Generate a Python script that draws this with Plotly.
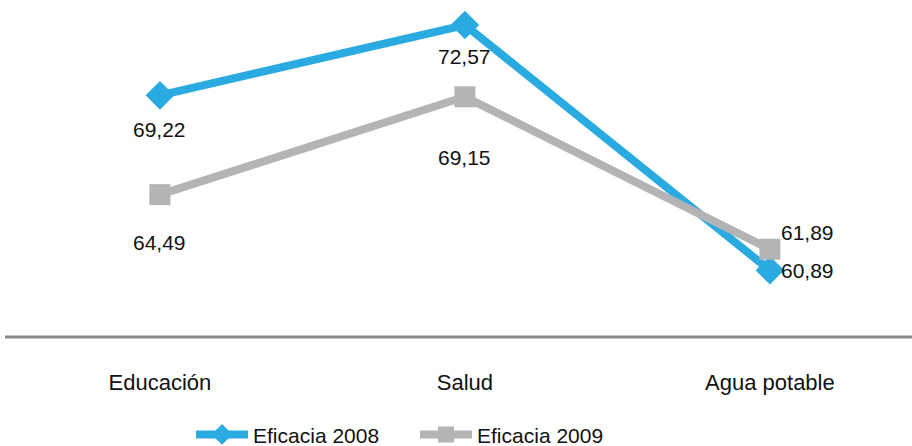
import plotly.graph_objects as go

categories = ["Educación", "Salud", "Agua potable"]
eficacia_2008 = [69.22, 72.57, 60.89]
eficacia_2009 = [64.49, 69.15, 61.89]
series_names = ["Eficacia 2008", "Eficacia 2009"]

# label offsets (px) for data labels: (xshift, yshift)
off_2008 = [(0, -34), (0, -32), (38, 0)]
off_2009 = [(0, -48), (0, -61), (38, 17)]

BLUE = "#29ABE2"
GRAY = "#B2B4B6"
FONT = "Liberation Sans, Arial, sans-serif"

xs = list(range(len(categories)))

fig = go.Figure()
fig.add_trace(go.Scatter(
    x=xs, y=eficacia_2008, name=series_names[0], mode="lines+markers",
    line=dict(color=BLUE, width=8),
    marker=dict(symbol="diamond", size=22, color=BLUE),
))
fig.add_trace(go.Scatter(
    x=xs, y=eficacia_2009, name=series_names[1], mode="lines+markers",
    line=dict(color=GRAY, width=8),
    marker=dict(symbol="square", size=21, color=GRAY),
))

def fmt(v):
    return f"{v:.2f}".replace(".", ",")

for vals, offs in ((eficacia_2008, off_2008), (eficacia_2009, off_2009)):
    for i, (v, (dx, dy)) in enumerate(zip(vals, offs)):
        fig.add_annotation(x=xs[i], y=v, text=fmt(v), showarrow=False,
                           xshift=dx, yshift=dy, xanchor="center", yanchor="middle",
                           font=dict(family=FONT, size=21, color="#111111"))

fig.update_layout(
    width=912, height=446,
    margin=dict(l=5, r=0, t=0, b=109, autoexpand=False),
    plot_bgcolor="white", paper_bgcolor="white",
    font=dict(family=FONT, size=21, color="#111111"),
    showlegend=True,
    legend=dict(orientation="h", x=0.2051, xanchor="left", y=-0.29, yanchor="middle",
                itemwidth=52, entrywidth=157, font=dict(family=FONT, size=21, color="#111111"),
                bgcolor="rgba(0,0,0,0)"),
    xaxis=dict(range=[-0.508, 2.466], tickvals=xs, ticktext=categories,
               showgrid=False, zeroline=False, showline=False, ticks="",
               ticklabelstandoff=30, tickfont=dict(family=FONT, size=22, color="#111111")),
    yaxis=dict(range=[57.71, 73.76], showgrid=False, zeroline=False,
               showticklabels=False, ticks="", showline=False),
    shapes=[dict(type="line", xref="paper", yref="paper", x0=0, x1=1, y0=0, y1=0,
                 line=dict(color="#898989", width=3), layer="below")],
)

fig.write_html("out.html", config={"displayModeBar": False},
               post_script="document.body.style.margin='0';document.body.style.overflow='hidden';")
